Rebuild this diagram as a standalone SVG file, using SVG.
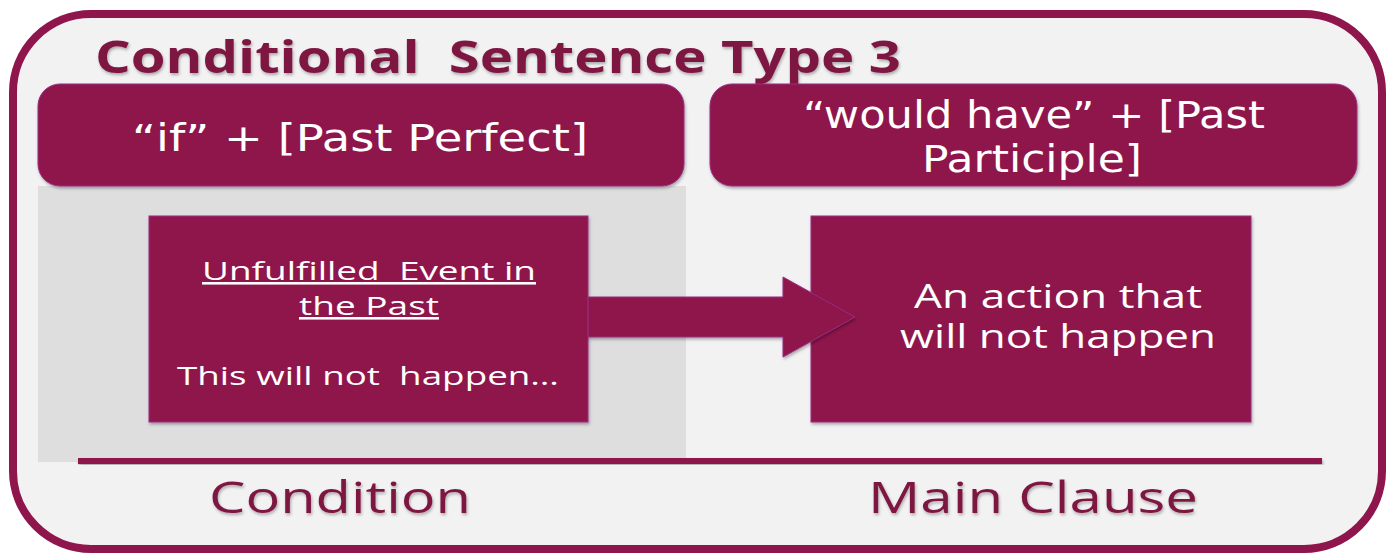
<svg xmlns="http://www.w3.org/2000/svg" width="1394" height="558" viewBox="0 0 1394 558">
<defs>
<filter id="sh" x="-5%" y="-5%" width="110%" height="120%"><feDropShadow dx="1" dy="2" stdDeviation="1.5" flood-color="#000" flood-opacity="0.3"/></filter>
</defs>
<style>
text{white-space:pre}
.box{fill:#8f164c;stroke:#9a2a86;stroke-width:1}
.wt{fill:#ffffff;font-family:"DejaVu Sans",sans-serif;text-anchor:middle}
.bt{fill:#ffffff;font-family:"Open Sans","Liberation Sans",sans-serif;text-anchor:middle}
.lab{fill:#7e1442;font-family:"Open Sans","Liberation Sans",sans-serif;text-anchor:middle}
</style>
<rect width="1394" height="558" fill="#ffffff"/>
<g id="frame">
<rect x="13" y="14" width="1369" height="535" rx="78" ry="78" fill="#f2f2f2" stroke="#8f164c" stroke-width="8"/>
<text x="95" y="73" font-family="Open Sans,Liberation Sans,sans-serif" font-weight="bold" font-size="44" fill="#7e1442" textLength="806" lengthAdjust="spacingAndGlyphs" filter="url(#sh)" xml:space="preserve">Conditional  Sentence Type 3</text>
</g>
<g id="panel">
<rect x="38" y="186" width="648" height="276" fill="#dedede"/>
</g>
<g id="if-header">
<rect class="box" x="38" y="84" width="646" height="102" rx="22" ry="22" filter="url(#sh)"/>
<text class="wt" x="360" y="151" font-size="37" textLength="456" lengthAdjust="spacingAndGlyphs">“if” + [Past Perfect]</text>
</g>
<g id="would-header">
<rect class="box" x="710" y="84" width="647" height="102" rx="22" ry="22" filter="url(#sh)"/>
<text class="wt" x="1034" y="128" font-size="37" textLength="462" lengthAdjust="spacingAndGlyphs">“would have” + [Past</text>
<text class="wt" x="1032" y="172" font-size="37" textLength="220" lengthAdjust="spacingAndGlyphs">Participle]</text>
</g>
<g id="condition-box">
<rect class="box" x="149" y="216" width="439" height="206" filter="url(#sh)"/>
<text class="bt" x="369" y="280" font-size="26" text-decoration="underline" textLength="334" lengthAdjust="spacingAndGlyphs" xml:space="preserve">Unfulfilled  Event in</text>
<text class="bt" x="369" y="315" font-size="26" text-decoration="underline" textLength="140" lengthAdjust="spacingAndGlyphs">the Past</text>
<text class="bt" x="368" y="385" font-size="26" textLength="382" lengthAdjust="spacingAndGlyphs" xml:space="preserve">This will not  happen…</text>
</g>
<g id="main-box">
<rect class="box" x="811" y="216" width="440" height="206" filter="url(#sh)"/>
<text class="bt" x="1058" y="308" font-size="32" textLength="288" lengthAdjust="spacingAndGlyphs">An action that</text>
<text class="bt" x="1058" y="348" font-size="32" textLength="316" lengthAdjust="spacingAndGlyphs">will not happen</text>
</g>
<g id="connectors">
<polygon class="box" points="588,297 783,297 783,277 855,317 783,357 783,337 588,337" filter="url(#sh)"/>
<rect x="78" y="458" width="1244" height="6" fill="#8f164c" filter="url(#sh)"/>
</g>
<g id="labels">
<text class="lab" x="340" y="513" font-size="44" textLength="262" lengthAdjust="spacingAndGlyphs" filter="url(#sh)">Condition</text>
<text class="lab" x="1033" y="513" font-size="44" textLength="330" lengthAdjust="spacingAndGlyphs" filter="url(#sh)">Main Clause</text>
</g>
</svg>
